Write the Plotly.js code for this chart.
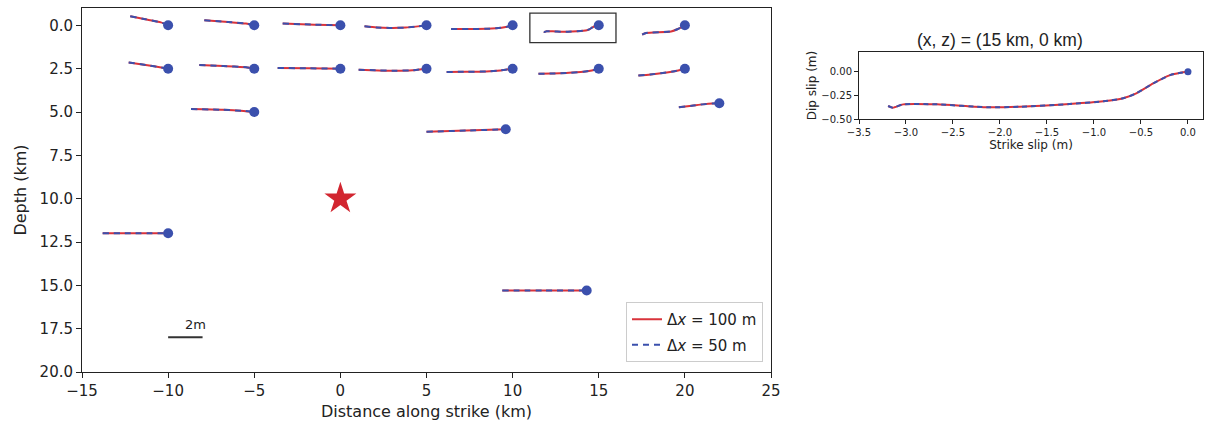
<!DOCTYPE html>
<html>
<head>
<meta charset="utf-8">
<script src="https://cdn.plot.ly/plotly-3.0.1.min.js"></script>
<style>html,body{margin:0;padding:0;background:#fff;}#chart{width:1206px;height:425px;}</style>
</head>
<body>
<div id="chart"></div>
<script>
// Station positions (km)
const stationX = [-10, -5, 0, 5, 10, 15, 20, -10, -5, 0, 5, 10, 15, 20, -5, 22, 9.6, -10, 14.3];
const stationZ = [0, 0, 0, 0, 0, 0, 0, 2.5, 2.5, 2.5, 2.5, 2.5, 2.5, 2.5, 5, 4.5, 6, 12, 15.3];

// Slip paths at each station (m): strike slip and dip slip
const strikeSlip = [
  [-2.2, -1.4, -0.42, 0],
  [-2.9, -1.5, -0.48, 0],
  [-3.35, -1.5, 0],
  [-3.6, -2.9, -2.15, -1.2, -0.5, 0],
  [-3.57, -2.5, -1.5, -0.96, -0.4, 0],
  [-3.19, -3.14, -3.03, -2.67, -2.14, -1.79, -1.26, -0.90, -0.69, -0.55, -0.37, -0.19, -0.08, 0],
  [-2.48, -2.25, -0.8, -0.41, 0],
  [-2.29, -1.2, -0.4, 0],
  [-3.19, -1.8, -0.48, 0],
  [-3.64, -1.8, 0],
  [-3.94, -2.8, -1.77, -0.8, 0],
  [-3.83, -2.7, -1.54, -0.7, 0],
  [-3.5, -2.7, -1.89, -0.9, -0.4, 0],
  [-2.7, -2.0, -1.28, -0.6, 0],
  [-3.67, -1.83, -0.6, 0],
  [-2.35, -1.6, -0.96, -0.4, 0],
  [-4.6, -2.3, 0],
  [-3.8, -1.9, 0],
  [-4.9, -2.4, 0]
];
const dipSlip = [
  [0.52, 0.36, 0.17, 0],
  [0.29, 0.19, 0.1, 0],
  [0.1, 0.04, 0],
  [-0.06, -0.12, -0.15, -0.13, -0.06, 0],
  [-0.21, -0.21, -0.2, -0.17, -0.1, 0],
  [-0.362, -0.38, -0.345, -0.345, -0.376, -0.37, -0.341, -0.313, -0.281, -0.228, -0.123, -0.035, -0.01, 0],
  [-0.54, -0.44, -0.35, -0.21, 0],
  [0.36, 0.2, 0.07, 0],
  [0.21, 0.15, 0.08, 0],
  [0.04, 0.02, 0],
  [-0.06, -0.1, -0.12, -0.09, 0],
  [-0.19, -0.18, -0.16, -0.1, 0],
  [-0.29, -0.28, -0.25, -0.18, -0.1, 0],
  [-0.39, -0.33, -0.25, -0.15, 0],
  [0.17, 0.13, 0.06, 0],
  [-0.23, -0.14, -0.06, -0.01, 0],
  [-0.14, -0.07, 0],
  [0, 0, 0],
  [0, 0, 0]
];

// Hypocenter
const hypoX = [0];
const hypoZ = [10];

// Highlighted station (inset on the right)
const insetIndex = 5;
const insetBoxX = [11, 16];
const insetBoxZ = [-0.7, 1.0];

// Scale bar
const scaleBarX = -10;
const scaleBarZ = 18;
const scaleBarLen = 2;
const scaleBarLabel = '2m';

const seriesNames = ['Δ<i>x</i> = 100 m', 'Δ<i>x</i> = 50 m'];
const xTicks = [-15, -10, -5, 0, 5, 10, 15, 20, 25];
const yTicks = [0, 2.5, 5, 7.5, 10, 12.5, 15, 17.5, 20];
const x2Ticks = [-3.5, -3.0, -2.5, -2.0, -1.5, -1.0, -0.5, 0.0];
const y2Ticks = [-0.5, -0.25, 0];

const RED = '#d9333b';
const BLUE = '#3b50ad';
const FONT = 'DejaVu Sans, sans-serif';
const W = 1206, H = 425;

const traces = [];
for (let i = 0; i < stationX.length; i++) {
  const xs = strikeSlip[i].map(s => stationX[i] + s);
  const ys = dipSlip[i].map(d => stationZ[i] - d);
  traces.push({
    x: xs, y: ys, mode: 'lines', type: 'scatter',
    line: {color: RED, width: 2, shape: 'spline', smoothing: 0.6},
    name: seriesNames[0], legendgroup: 'a', showlegend: i === 0,
    xaxis: 'x', yaxis: 'y'
  });
}
for (let i = 0; i < stationX.length; i++) {
  const xs = strikeSlip[i].map(s => stationX[i] + s);
  const ys = dipSlip[i].map(d => stationZ[i] - d);
  traces.push({
    x: xs, y: ys, mode: 'lines', type: 'scatter',
    line: {color: BLUE, width: 2, dash: '6px,5px', shape: 'spline', smoothing: 0.6},
    name: seriesNames[1], legendgroup: 'b', showlegend: i === 0,
    xaxis: 'x', yaxis: 'y'
  });
}
traces.push({
  x: stationX, y: stationZ, mode: 'markers', type: 'scatter',
  marker: {color: BLUE, size: 10}, showlegend: false, xaxis: 'x', yaxis: 'y'
});
traces.push({
  x: hypoX, y: hypoZ, mode: 'markers', type: 'scatter',
  marker: {color: '#d22630', size: 24, symbol: 'star'}, showlegend: false, xaxis: 'x', yaxis: 'y'
});

// Right panel
traces.push({
  x: strikeSlip[insetIndex], y: dipSlip[insetIndex], mode: 'lines', type: 'scatter',
  line: {color: RED, width: 2, shape: 'spline', smoothing: 0.6}, showlegend: false,
  xaxis: 'x2', yaxis: 'y2'
});
traces.push({
  x: strikeSlip[insetIndex], y: dipSlip[insetIndex], mode: 'lines', type: 'scatter',
  line: {color: BLUE, width: 2, dash: '5px,4px', shape: 'spline', smoothing: 0.6}, showlegend: false,
  xaxis: 'x2', yaxis: 'y2'
});
traces.push({
  x: [0], y: [0], mode: 'markers', type: 'scatter',
  marker: {color: BLUE, size: 7}, showlegend: false, xaxis: 'x2', yaxis: 'y2'
});

const axisCommon = {
  showline: true, mirror: true, linecolor: '#222', linewidth: 1,
  ticks: 'outside', ticklen: 5, tickwidth: 1, tickcolor: '#222',
  showgrid: false, zeroline: false, color: '#222'
};

const layout = {
  width: W, height: H,
  margin: {l: 0, r: 0, t: 0, b: 0},
  paper_bgcolor: '#fff', plot_bgcolor: '#fff',
  font: {family: FONT, color: '#222', size: 15},
  showlegend: true,
  legend: {
    x: 763 / W, y: 1 - 362 / H, xanchor: 'right', yanchor: 'bottom',
    xref: 'paper', yref: 'paper',
    bordercolor: '#cccccc', borderwidth: 1, bgcolor: '#fff',
    font: {family: FONT, size: 15, color: '#222'},
    tracegroupgap: 3
  },
  xaxis: Object.assign({}, axisCommon, {
    domain: [82 / W, 771 / W], range: [-15, 25], tickvals: xTicks,
    anchor: 'y', tickfont: {size: 15},
    title: {text: 'Distance along strike (km)', font: {size: 16}, standoff: 6}
  }),
  yaxis: Object.assign({}, axisCommon, {
    domain: [1 - 372 / H, 1 - 8 / H], range: [20, -1], tickvals: yTicks, tickformat: '.1f',
    anchor: 'x', tickfont: {size: 15},
    title: {text: 'Depth (km)', font: {size: 16}, standoff: 8}
  }),
  xaxis2: Object.assign({}, axisCommon, {
    domain: [859 / W, 1203 / W], range: [-3.5, 0.16], tickvals: x2Ticks, tickformat: '.1f',
    anchor: 'y2', tickfont: {size: 10}, ticklen: 4,
    title: {text: 'Strike slip (m)', font: {size: 12}, standoff: 2}
  }),
  yaxis2: Object.assign({}, axisCommon, {
    domain: [1 - 119 / H, 1 - 52 / H], range: [-0.5, 0.21], tickvals: y2Ticks, tickformat: '.2f',
    anchor: 'x2', tickfont: {size: 10}, ticklen: 4,
    title: {text: 'Dip slip (m)', font: {size: 12}, standoff: 2}
  }),
  shapes: [
    {type: 'rect', xref: 'x', yref: 'y', x0: insetBoxX[0], x1: insetBoxX[1], y0: insetBoxZ[0], y1: insetBoxZ[1],
     line: {color: '#333', width: 1.3}},
    {type: 'line', xref: 'x', yref: 'y', x0: scaleBarX, x1: scaleBarX + scaleBarLen, y0: scaleBarZ, y1: scaleBarZ,
     line: {color: '#333', width: 2}}
  ],
  annotations: [
    {xref: 'x', yref: 'y', x: scaleBarX + scaleBarLen * 0.8, y: scaleBarZ - 0.75, text: scaleBarLabel,
     showarrow: false, font: {family: FONT, size: 13, color: '#222'}},
    {xref: 'paper', yref: 'paper', x: 1000 / W, y: 1 - 40 / H, xanchor: 'center', yanchor: 'middle',
     text: '(x, z) = (' + stationX[insetIndex] + ' km, ' + stationZ[insetIndex] + ' km)',
     showarrow: false, font: {family: 'Liberation Sans, Arial, sans-serif', size: 17.5, color: '#222'}}
  ]
};

Plotly.newPlot('chart', traces, layout, {staticPlot: true, displayModeBar: false});
</script>
</body>
</html>
